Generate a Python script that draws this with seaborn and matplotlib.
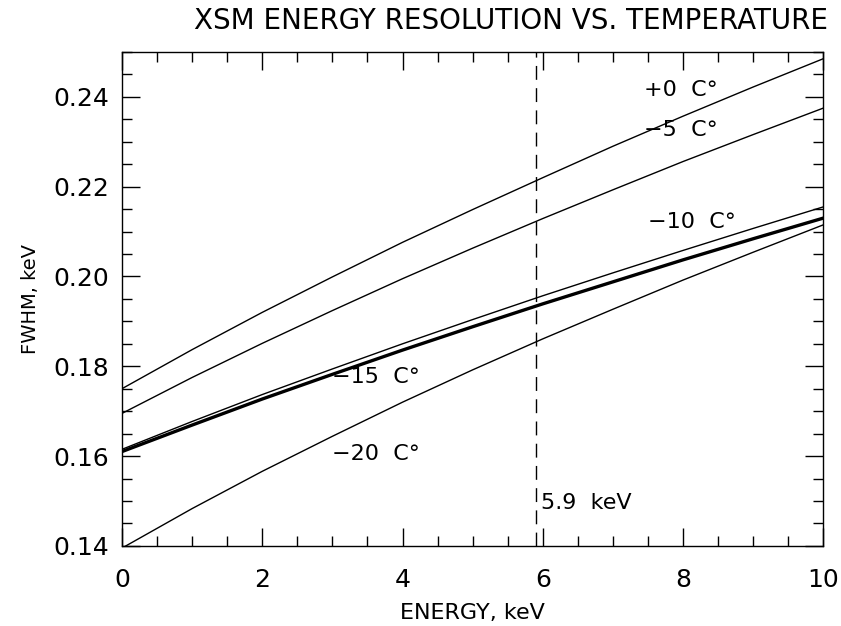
import matplotlib
matplotlib.use("Agg")
import matplotlib.pyplot as plt
import seaborn as sns
import pandas as pd
from matplotlib.ticker import MultipleLocator

energy = [0, 1, 2, 3, 4, 5, 6, 7, 8, 9, 10]
fwhm_p0 = [0.1750, 0.1837, 0.1920, 0.1999, 0.2076, 0.2149, 0.2220, 0.2290, 0.2357, 0.2422, 0.2485]
fwhm_m5 = [0.1695, 0.1775, 0.1851, 0.1924, 0.1995, 0.2063, 0.2129, 0.2193, 0.2256, 0.2316, 0.2375]
fwhm_m10 = [0.1615, 0.1677, 0.1737, 0.1794, 0.1850, 0.1904, 0.1957, 0.2008, 0.2058, 0.2107, 0.2155]
fwhm_m15 = [0.1610, 0.1669, 0.1727, 0.1782, 0.1836, 0.1888, 0.1939, 0.1988, 0.2037, 0.2084, 0.2130]
fwhm_m20 = [0.1395, 0.1483, 0.1566, 0.1644, 0.1720, 0.1792, 0.1861, 0.1927, 0.1992, 0.2054, 0.2115]

series_names = ["+0  C°", "\u22125  C°", "\u221210  C°", "\u221215  C°", "\u221220  C°"]
series_values = [fwhm_p0, fwhm_m5, fwhm_m10, fwhm_m15, fwhm_m20]
label_pos = [(7.45, 0.2415), (7.45, 0.2327), (7.5, 0.2122), (3.0, 0.1776), (3.0, 0.1604)]
line_widths = [1.0, 1.0, 1.0, 2.4, 1.0]

marker_energy = 5.9
marker_label = "5.9  keV"

rows = []
for name, vals in zip(series_names, series_values):
    for e, v in zip(energy, vals):
        rows.append({"energy": e, "fwhm": v, "temp": name})
df = pd.DataFrame(rows)

sns.set_style("ticks")
plt.rcParams['font.family'] = ['DejaVu Sans']
plt.rcParams['text.color'] = 'black'
plt.rcParams['axes.labelcolor'] = 'black'
plt.rcParams['xtick.color'] = 'black'
plt.rcParams['ytick.color'] = 'black'

fig = plt.figure(figsize=(8.41, 6.26), dpi=100)
ax = fig.add_axes([0.145, 0.128, 0.834, 0.789])

for name, lw in zip(series_names, line_widths):
    sub = df[df["temp"] == name]
    sns.lineplot(data=sub, x="energy", y="fwhm", color="black", lw=lw, ax=ax, legend=False)

ax.axvline(marker_energy, color="black", lw=1.0, ls=(0, (10, 6)))

for name, (lx, ly) in zip(series_names, label_pos):
    ax.text(lx, ly, name, fontsize=16, va="center", ha="left", color="black")
ax.text(marker_energy + 0.08, 0.1495, marker_label, fontsize=16, va="center", ha="left", color="black")

ax.set_xlim(0, 10)
ax.set_ylim(0.14, 0.25)
ax.xaxis.set_major_locator(MultipleLocator(2))
ax.xaxis.set_minor_locator(MultipleLocator(0.5))
ax.yaxis.set_minor_locator(MultipleLocator(0.005))
ax.set_yticks([0.14, 0.16, 0.18, 0.20, 0.22, 0.24])
ax.set_yticklabels(["0.14", "0.16", "0.18", "0.20", "0.22", "0.24"])
ax.tick_params(which="both", direction="in", top=True, right=True, color="black", width=1.0)
ax.tick_params(which="major", length=13, labelsize=18)
ax.tick_params(axis="x", which="major", pad=16)
ax.tick_params(axis="y", which="major", pad=9)
ax.tick_params(which="minor", length=7)
for s in ax.spines.values():
    s.set_color("black")
    s.set_linewidth(1.0)

ax.set_xlabel("ENERGY, keV", fontsize=16, labelpad=8)
ax.set_ylabel("FWHM, keV", fontsize=14, labelpad=10)
fig.text(0.608, 0.966, "XSM ENERGY RESOLUTION VS. TEMPERATURE", fontsize=20, ha="center", va="center")

fig.savefig("out.png", dpi=100, facecolor="white")
